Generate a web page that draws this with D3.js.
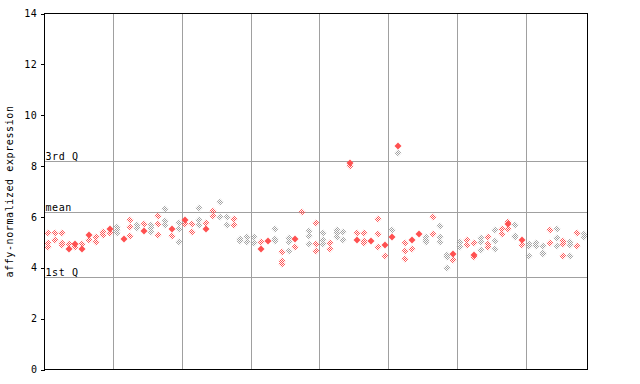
<!DOCTYPE html>
<html><head><meta charset="utf-8">
<script src="https://cdn.jsdelivr.net/npm/d3@7"></script>
<style>body{margin:0;background:#fff}svg text{font-family:"DejaVu Sans Mono",monospace;font-size:10px;letter-spacing:0.6px}</style>
</head><body><svg id="c" width="640" height="384"></svg>
<script>
// expression values per sample (column)
const samples = [
[5.37,4.98,4.82],[5.37,5.11],[5.37,4.98,4.90],[4.95,4.72],[4.95,4.82],[4.95,4.75],[5.28,5.11],[5.21,5.00],[5.41,5.28],[5.51,5.37],
[5.61,5.48,5.35],[5.12],[5.88,5.59,5.24],[5.70,5.55],[5.74,5.45],[5.68,5.55,5.41],[6.03,5.74,5.28],[6.30,5.84,5.68],[5.52,5.24],[5.78,5.51,5.02],
[5.88,5.74],[5.72,5.41],[6.34,5.88,5.68],[5.78,5.51],[6.23,6.03],[6.57,5.98],[5.98,5.68],[5.90,5.68],[5.12,5.05],[5.22,5.00],
[5.22,4.96],[5.02,4.73],[5.06],[5.51,5.15,5.06],[4.63,4.26,4.13],[5.19,5.02,4.65],[5.14,4.80],[6.18],[5.44,5.24,4.93],[5.78,4.93,4.67],
[5.35,5.11,4.92],[4.96,4.72],[5.48,5.35,5.22],[5.39,5.09],[8.11,8.00],[5.35,5.11],[5.35,5.05,4.98],[5.05],[5.90,5.32,4.80],[4.89,4.48],
[5.48,5.20],[8.77,8.50],[4.96,4.67,4.33],[5.09,4.72],[5.31],[5.22,5.11,5.00],[6.01,5.32],[5.64,5.22,5.00],[4.52,4.43,4.01],[4.55,4.30],
[5.02,4.80],[5.08,4.90],[4.96,4.51,4.43],[5.16,5.00,4.69],[5.22,4.93,4.83],[5.47,5.07,4.73],[5.53,5.33],[5.80,5.73,5.53],[5.67,5.26,5.20],[5.11,4.89],
[4.93,4.87,4.47],[4.96,4.87],[4.87,4.60,4.53],[5.49,4.96],[5.53,5.17,4.87],[5.07,4.93,4.47],[5.02,4.89,4.47],[5.37,4.87],[5.33,5.22]
];
// index of the solid (filled) point in each sample, -1 if none
const filledIdx = [-1,-1,-1,1,0,1,0,-1,-1,0, -1,0,-1,-1,1,-1,-1,-1,0,-1, 0,-1,-1,1,-1,-1,-1,-1,-1,-1,
 -1,1,0,-1,-1,-1,0,-1,-1,-1, -1,-1,-1,-1,0,1,-1,0,-1,0, 1,0,-1,0,0,-1,-1,-1,-1,0,
 -1,-1,1,-1,-1,-1,-1,1,-1,0, -1,-1,-1,-1,-1,-1,-1,-1,-1];
// samples drawn in grey (1-based)
const greySamples = [11,14,16,18,20,23,26,27,29,30,31,34,36,39,41,43,44,51,52,55,56,58,59,61,64,66,69,71,72,73,75,77,79];
const yTicks = [0,2,4,6,8,10,12,14];
const refLines = [{label:"3rd Q", v:8.20},{label:"mean", v:6.21},{label:"1st Q", v:3.62}];
const groupSize = 10;
const yLabel = "affy-normalized expression";

const svg = d3.select("#c");
const L=44.5, R=587.5, T=13.5, B=369.5;
const x = d3.scaleLinear().domain([0, samples.length]).range([L, R]);
const y = d3.scaleLinear().domain([0, 14]).range([B, T]);
const RED="#ff5050", GREY="#a0a0a0";

const defs = svg.append("defs");
[["chkR",RED],["chkG",GREY]].forEach(([id,c])=>{
  const p = defs.append("pattern").attr("id",id).attr("patternUnits","userSpaceOnUse").attr("width",2).attr("height",2);
  p.append("rect").attr("x",0).attr("y",0).attr("width",1).attr("height",1).attr("fill",c);
  p.append("rect").attr("x",1).attr("y",1).attr("width",1).attr("height",1).attr("fill",c);
});

// grid
const g = svg.append("g").attr("shape-rendering","crispEdges");
for (let k=groupSize; k<samples.length; k+=groupSize) {
  g.append("line").attr("x1",Math.round(x(k))+0.5).attr("x2",Math.round(x(k))+0.5).attr("y1",T).attr("y2",B).attr("stroke",GREY);
}
refLines.forEach(r=>{
  const yy = Math.round(y(r.v))+0.5;
  g.append("line").attr("x1",L).attr("x2",R).attr("y1",yy).attr("y2",yy).attr("stroke",GREY);
  svg.append("text").attr("x",L+1).attr("y",yy-2).attr("fill","#000").text(r.label);
});

// points
const pts = [];
samples.forEach((vals,i)=>{
  vals.forEach((v,j)=>{
    pts.push({i, v, filled: filledIdx[i]===j, grey: greySamples.includes(i+1)});
  });
});
const diamond = (cx,cy,h)=>`M${cx},${cy-h}L${cx+h},${cy}L${cx},${cy+h}L${cx-h},${cy}Z`;
svg.append("g").selectAll("path").data(pts.filter(d=>!d.filled)).join("path")
  .attr("d",d=>diamond(Math.round(x(d.i+0.5)), Math.round(y(d.v)), 3.5))
  .attr("fill",d=>d.grey?"url(#chkG)":"url(#chkR)");
svg.append("g").selectAll("path").data(pts.filter(d=>d.filled)).join("path")
  .attr("d",d=>diamond(Math.round(x(d.i+0.5)), Math.round(y(d.v)), 3.5))
  .attr("fill",RED);

// frame & axis
svg.append("rect").attr("x",L).attr("y",T).attr("width",R-L).attr("height",B-T)
  .attr("fill","none").attr("stroke","#000").attr("shape-rendering","crispEdges");
const ax = svg.append("g").attr("transform",`translate(${L},0)`)
  .call(d3.axisLeft(y).tickValues(yTicks).tickSize(4).tickPadding(3).tickFormat(d3.format("d")));
ax.select(".domain").remove();
ax.selectAll("line").attr("stroke","#000").attr("shape-rendering","crispEdges");
ax.selectAll("text").attr("fill","#000").style("font-family","'DejaVu Sans Mono',monospace").style("font-size","10px");

svg.append("text").attr("transform",`translate(13,${(T+B)/2}) rotate(-90)`).attr("text-anchor","middle").attr("fill","#000").text(yLabel);
</script></body></html>
